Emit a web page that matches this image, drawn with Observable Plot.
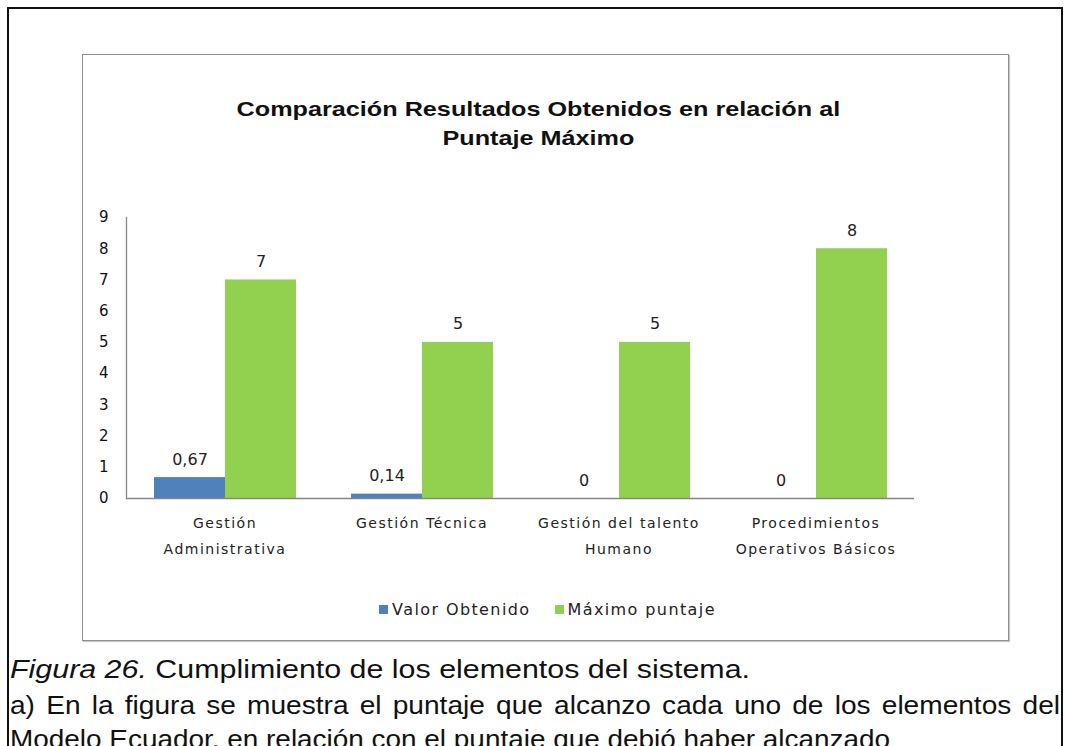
<!DOCTYPE html>
<html>
<head>
<meta charset="utf-8">
<script src="https://cdn.jsdelivr.net/npm/d3@7"></script>
<script src="https://cdn.jsdelivr.net/npm/@observablehq/plot@0.6"></script>
<style>
  body { margin: 0; background: #fff; width: 1066px; height: 746px; overflow: hidden; position: relative; }
  #outer { position: absolute; left: 7px; top: 7px; width: 1052px; height: 800px; border: 2px solid #111; border-bottom: none; }
  #box { position: absolute; left: 82px; top: 54px; width: 925px; height: 585px; border: 1px solid #8e8e8e; box-shadow: 1px 1px 1px #c8c8c8; }
  #title { position: absolute; left: 75px; top: 94px; width: 925px; text-align: center; font-family: "Liberation Sans", Arial, sans-serif; font-weight: bold; font-size: 21px; line-height: 29px; color: #111; transform: scaleX(1.2); transform-origin: 458px 0; }
  #chart { position: absolute; left: 82px; top: 190px; }
  #legend { position: absolute; left: 85px; top: 600px; width: 925px; display: flex; justify-content: center; font-family: "DejaVu Sans", Verdana, sans-serif; font-size: 16px; letter-spacing: 1.4px; color: #222; }
  #legend span.item { display: inline-flex; align-items: center; margin: 0 12px; }
  #legend span.sw { width: 9px; height: 9px; margin-right: 4px; display: inline-block; }
  .cap { position: absolute; left: 10px; white-space: nowrap; font-family: "Liberation Sans", Arial, sans-serif; font-size: 26px; line-height: 34px; color: #111; transform-origin: 0 0; }
  g[aria-label="fx-axis tick label"] text { letter-spacing: 1.5px; }
</style>
</head>
<body>
<div id="outer"></div>
<div id="box"></div>
<div id="title">Comparación Resultados Obtenidos en relación al<br>Puntaje Máximo</div>
<div id="chart"></div>
<div id="legend"></div>
<div class="cap" id="cap1" style="top:652px"><i>Figura 26.</i> Cumplimiento de los elementos del sistema.</div>
<div class="cap" id="cap2" style="top:688px">a) En la figura se muestra el puntaje que alcanzo cada uno de los elementos del</div>
<div class="cap" id="cap3" style="top:722px">Modelo Ecuador, en relación con el puntaje que debió haber alcanzado</div>
<script>
const categories = ["Gestión Administrativa", "Gestión Técnica", "Gestión del talento Humano", "Procedimientos Operativos Básicos"];
const categoryLabels = ["Gestión\nAdministrativa", "Gestión Técnica", "Gestión del talento\nHumano", "Procedimientos\nOperativos Básicos"];
const series = ["Valor Obtenido", "Máximo puntaje"];
const valorObtenido = [0.67, 0.14, 0, 0];
const maximoPuntaje = [7, 5, 5, 8];
const yTicks = [0, 1, 2, 3, 4, 5, 6, 7, 8, 9];
const colors = ["#4F81BD", "#92D050"];

const table = [];
categories.forEach((c, i) => {
  table.push({cat: c, serie: series[0], value: valorObtenido[i]});
  table.push({cat: c, serie: series[1], value: maximoPuntaje[i]});
});
const labelOf = Object.fromEntries(categories.map((c, i) => [c, categoryLabels[i]]));
const fmt = v => String(v).replace(".", ",");

const chart = Plot.plot({
  width: 926,
  height: 380,
  marginLeft: 43,
  marginRight: 93,
  marginTop: 27,
  marginBottom: 72,
  fx: {domain: categories, padding: 0, label: null, axis: null},
  x: {domain: series, axis: null, paddingInner: 0, paddingOuter: 0.371},
  y: {domain: [0, 9], label: null, axis: null},
  color: {domain: series, range: colors},
  marks: [
    Plot.barY(table, {fx: "cat", x: "serie", y: "value", fill: "serie"}),
    Plot.ruleY([0], {stroke: "#868686", strokeWidth: 1.3}),
    Plot.frame({anchor: "left", facetAnchor: "left", stroke: "#868686", strokeWidth: 1.3}),
    Plot.axisY({ticks: yTicks, tickSize: 0, tickPadding: 18, fill: "#111", fontSize: 15, fontFamily: "DejaVu Sans", label: null}),
    Plot.axisFx({anchor: "bottom", tickSize: 0, tickPadding: 11, tickFormat: d => labelOf[d], fill: "#222", fontSize: 14, fontFamily: "DejaVu Sans", label: null, lineHeight: 1.85}),
    Plot.text(table, {fx: "cat", x: "serie", y: "value", text: d => fmt(d.value), dy: -13, lineAnchor: "bottom", fill: "#222", fontSize: 16, fontFamily: "DejaVu Sans"})
  ]
});
document.getElementById("chart").appendChild(chart);

const legend = document.getElementById("legend");
series.forEach((s, i) => {
  const item = document.createElement("span");
  item.className = "item";
  const sw = document.createElement("span");
  sw.className = "sw";
  sw.style.background = colors[i];
  item.appendChild(sw);
  item.appendChild(document.createTextNode(s));
  legend.appendChild(item);
});

// caption lines: stretched horizontally to the reference's line widths
function fitLine(id, target) {
  const el = document.getElementById(id);
  const w = el.getBoundingClientRect().width;
  el.style.transform = `scaleX(${target / w})`;
}
fitLine("cap1", 740);
fitLine("cap3", 880);
// line 2 is justified: glyphs stretched, gaps widened to fill the line
const cap2 = document.getElementById("cap2");
const sx = 1.08;
const w2 = cap2.getBoundingClientRect().width;
const nSpaces = cap2.textContent.split(" ").length - 1;
const extra = (1050 / sx - w2) / nSpaces;
cap2.style.wordSpacing = `${extra}px`;
const w2b = cap2.getBoundingClientRect().width;
cap2.style.transform = `scaleX(${1050 / w2b})`;
</script>
</body>
</html>
